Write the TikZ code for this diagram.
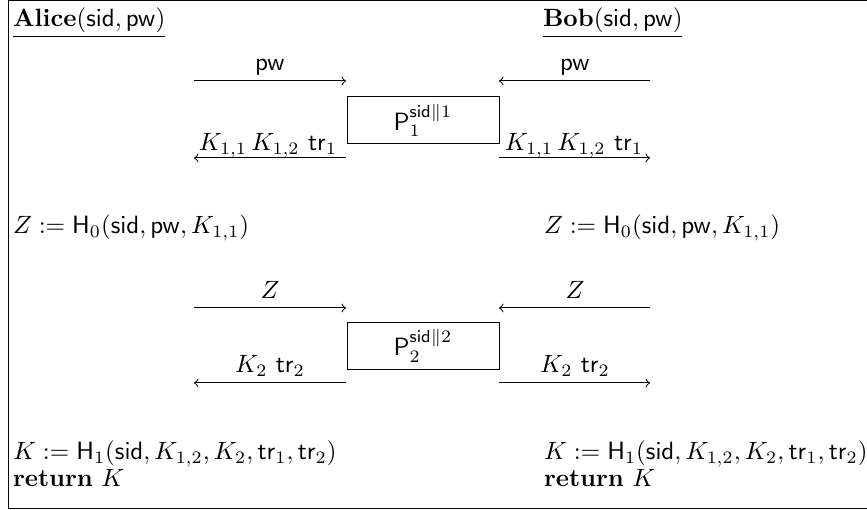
\documentclass[tikz,border=0pt]{standalone}
\usepackage{amsmath}
\begin{document}
\begin{tikzpicture}[x=0.4pt,y=-0.4pt,
  txt/.style={anchor=base west,inner sep=0pt,outer sep=0pt},
  lbl/.style={anchor=base,inner sep=0pt,outer sep=0pt},
  func/.style={draw,line width=0.4pt,minimum width=60.8pt,minimum height=18.8pt,inner sep=0pt},
  msg/.style={->,line width=0.4pt}]
\useasboundingbox (0,0) rectangle (867,510);
\draw[line width=0.4pt] (8.5,0.5) -- (880,0.5);
\draw[line width=0.4pt] (8.5,0.5) -- (8.5,508.5) -- (880,508.5);
% parties
\node[txt] (alice) at (13,27) {$\underline{\textbf{Alice}(\mathsf{sid},\mathsf{pw})}$};
\node[txt] (bob) at (543,27) {$\underline{\textbf{Bob}(\mathsf{sid},\mathsf{pw})}$};
% functionality 1
\node[func] (p1) at (423,120.5) {$\mathsf{P}_1^{\mathsf{sid}\|1}$};
\coordinate (a1s) at (194,81); \coordinate (a1e) at (346,81);
\coordinate (b1s) at (650,81); \coordinate (b1e) at (499,81);
\coordinate (a2s) at (346,158); \coordinate (a2e) at (194,158);
\coordinate (b2s) at (499,158); \coordinate (b2e) at (650,158);
\draw[msg] (a1s) -- (a1e);
\draw[msg] (b1s) -- (b1e);
\draw[msg] (a2s) -- (a2e);
\draw[msg] (b2s) -- (b2e);
\node[lbl] (l1) at (270,71) {$\mathsf{pw}$};
\node[lbl] (l2) at (575,71) {$\mathsf{pw}$};
\node[lbl] (l3) at (268,151) {$K_{1,1}\,K_{1,2}\ \mathsf{tr}_1$};
\node[lbl] (l4) at (574,151) {$K_{1,1}\,K_{1,2}\ \mathsf{tr}_1$};
% Z computation
\node[txt] (zA) at (13,234) {$Z := \mathsf{H}_0(\mathsf{sid},\mathsf{pw},K_{1,1})$};
\node[txt] (zB) at (544,234) {$Z := \mathsf{H}_0(\mathsf{sid},\mathsf{pw},K_{1,1})$};
% functionality 2
\node[func] (p2) at (423,346) {$\mathsf{P}_2^{\mathsf{sid}\|2}$};
\coordinate (c1s) at (194,308); \coordinate (c1e) at (346,308);
\coordinate (d1s) at (650,308); \coordinate (d1e) at (499,308);
\coordinate (c2s) at (346,383); \coordinate (c2e) at (194,383);
\coordinate (d2s) at (499,383); \coordinate (d2e) at (650,383);
\draw[msg] (c1s) -- (c1e);
\draw[msg] (d1s) -- (d1e);
\draw[msg] (c2s) -- (c2e);
\draw[msg] (d2s) -- (d2e);
\node[lbl] (m1) at (270,299) {$Z$};
\node[lbl] (m2) at (575,299) {$Z$};
\node[lbl] (m3) at (270,373) {$K_2\ \mathsf{tr}_2$};
\node[lbl] (m4) at (575,373) {$K_2\ \mathsf{tr}_2$};
% key
\node[txt] (kA) at (13,460) {$K := \mathsf{H}_1(\mathsf{sid},K_{1,2},K_2,\mathsf{tr}_1,\mathsf{tr}_2)$};
\node[txt] (kB) at (544,460) {$K := \mathsf{H}_1(\mathsf{sid},K_{1,2},K_2,\mathsf{tr}_1,\mathsf{tr}_2)$};
\node[txt] (rA) at (13,487) {$\mathbf{return}\ K$};
\node[txt] (rB) at (544,487) {$\mathbf{return}\ K$};
\end{tikzpicture}
\end{document}
